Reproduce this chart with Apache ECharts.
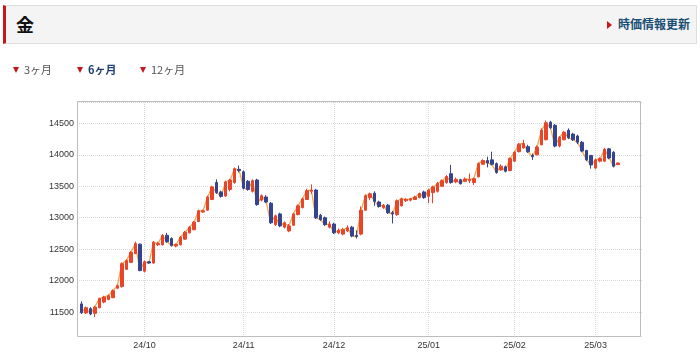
<!DOCTYPE html>
<html>
<head>
<meta charset="utf-8">
<script src="https://cdn.jsdelivr.net/npm/echarts@6/dist/echarts.min.js"></script>
<style>
html,body{margin:0;padding:0;background:#fff;width:700px;height:356px;overflow:hidden;font-family:'Noto Sans CJK JP','Noto Sans',sans-serif;}
#chart{position:absolute;left:0;top:0;width:700px;height:356px;}
.hdr{position:absolute;left:3px;top:5px;width:694px;height:39px;background:#f4f4f4;border:1px solid #dedede;border-left:3px solid #c8161d;box-sizing:border-box;}
.title{position:absolute;left:10px;top:5px;font-size:18px;font-weight:bold;color:#111;line-height:26px;}
.upd{position:absolute;right:6px;top:9px;font-size:12px;font-weight:bold;color:#1c4f74;line-height:18px;}
.upd i{display:inline-block;width:0;height:0;border-top:4px solid transparent;border-bottom:4px solid transparent;border-left:5px solid #c8161d;margin-right:6px;vertical-align:0px;}
.tab{position:absolute;top:60px;font-size:11px;color:#555;line-height:18px;}
.tab i{display:inline-block;width:0;height:0;border-left:3.5px solid transparent;border-right:3.5px solid transparent;border-top:6px solid #c8161d;margin-right:5px;vertical-align:1px;}
.tab.on{font-weight:bold;color:#1c3f6e;}
</style>
</head>
<body>
<div id="chart"></div>
<div class="hdr"><div class="title">金</div><div class="upd"><i></i>時価情報更新</div></div>
<div class="tab" style="left:13px"><i></i>3ヶ月</div>
<div class="tab on" style="left:77px"><i></i>6ヶ月</div>
<div class="tab" style="left:140px"><i></i>12ヶ月</div>
<script>
const dates = [
'24/09/09','24/09/10','24/09/11','24/09/12','24/09/13','24/09/17','24/09/18','24/09/19','24/09/20','24/09/24','24/09/25','24/09/26','24/09/27','24/09/30',
'24/10/01','24/10/02','24/10/03','24/10/04','24/10/07','24/10/08','24/10/09','24/10/10','24/10/11','24/10/15','24/10/16','24/10/17','24/10/18','24/10/21','24/10/22','24/10/23','24/10/24','24/10/25','24/10/28','24/10/29','24/10/30','24/10/31',
'24/11/01','24/11/05','24/11/06','24/11/07','24/11/08','24/11/11','24/11/12','24/11/13','24/11/14','24/11/15','24/11/18','24/11/19','24/11/20','24/11/21','24/11/22','24/11/25','24/11/26','24/11/27','24/11/28','24/11/29',
'24/12/02','24/12/03','24/12/04','24/12/05','24/12/06','24/12/09','24/12/10','24/12/11','24/12/12','24/12/13','24/12/16','24/12/17','24/12/18','24/12/19','24/12/20','24/12/23','24/12/24','24/12/25','24/12/26','24/12/27','24/12/30',
'25/01/06','25/01/07','25/01/08','25/01/09','25/01/10','25/01/14','25/01/15','25/01/16','25/01/17','25/01/20','25/01/21','25/01/22','25/01/23','25/01/24','25/01/27','25/01/28','25/01/29','25/01/30','25/01/31',
'25/02/03','25/02/04','25/02/05','25/02/06','25/02/07','25/02/10','25/02/12','25/02/13','25/02/14','25/02/17','25/02/18','25/02/19','25/02/20','25/02/21','25/02/25','25/02/26','25/02/27','25/02/28',
'25/03/03','25/03/04','25/03/05','25/03/06','25/03/07','25/03/10'
];
const opens = [
11630,11485,11555,11480,11570,11660,11700,11730,11880,11905,12180,12290,12430,12580,
12150,12300,12280,12570,12570,12720,12670,12550,12570,12660,12760,12810,12940,13090,13120,13290,13560,13410,13345,13450,13560,13770,
13730,13580,13420,13600,13280,13330,13230,12890,13060,12850,12790,12880,13050,13160,13290,13420,13440,13040,13000,12850,
12900,12760,12740,12790,12850,12720,12740,13120,13320,13390,13250,13160,13200,13080,13050,13190,13270,13280,13290,13320,13410,
13340,13400,13420,13500,13560,13700,13570,13605,13580,13590,13560,13650,13850,13910,13920,13860,13760,13810,13750,
13900,14050,14110,14130,13990,14000,14160,14240,14520,14470,14140,14240,14390,14330,14300,14200,14070,13990,
13790,13900,13900,14095,14040,13845
];
const closes = [
11490,11570,11470,11580,11715,11740,11760,11840,11920,12270,12320,12450,12590,12160,
12300,12280,12610,12590,12720,12620,12560,12575,12690,12770,12850,12930,13110,13110,13330,13490,13400,13340,13570,13600,13780,13750,
13470,13450,13590,13210,13350,13250,12920,13030,12870,12920,12870,13060,13190,13300,13430,13440,13000,12970,12890,12900,
12760,12800,12810,12840,12710,12700,13120,13350,13380,13260,13180,13200,13080,13060,13270,13300,13290,13300,13330,13385,13320,
13440,13490,13545,13590,13655,13560,13610,13540,13615,13610,13620,13860,13910,13870,13850,13720,13820,13740,13940,
14040,14170,14180,14050,13970,14125,14390,14510,14430,14140,14280,14360,14270,14240,14200,14060,13920,13840,
13920,13940,14090,13950,13820,13870
];
const lows = [
11470,11470,11450,11420,11560,11640,11690,11720,11870,11890,12170,12280,12420,12150,
12130,12270,12270,12550,12560,12600,12540,12530,12560,12650,12750,12800,12930,13080,13110,13280,13380,13320,13330,13420,13540,13720,
13450,13430,13400,13190,13260,13230,12900,12870,12850,12830,12770,12870,13040,13150,13280,13380,12980,12950,12870,12830,
12740,12740,12720,12770,12690,12670,12720,13110,13280,13190,13160,13140,13060,12910,13030,13180,13250,13260,13280,13310,13300,
13230,13230,13400,13490,13540,13540,13550,13530,13570,13550,13520,13640,13840,13800,13830,13700,13750,13720,13740,
13890,14040,14100,14030,13920,13990,14150,14230,14410,14120,14120,14230,14250,14220,14170,14040,13900,13780,
13770,13880,13890,13930,13800,13840
];
const highs = [
11670,11590,11580,11600,11730,11760,11780,11860,11940,12290,12340,12470,12620,12590,
12320,12310,12630,12620,12740,12760,12690,12590,12710,12790,12870,12950,13130,13130,13350,13510,13610,13430,13590,13620,13800,13830,
13750,13600,13610,13620,13370,13360,13250,13050,13080,12940,12900,13080,13210,13320,13460,13530,13460,13060,13020,12940,
12920,12830,12840,12880,12870,12800,13180,13370,13400,13420,13270,13220,13220,13110,13290,13320,13310,13310,13350,13400,13430,
13460,13510,13570,13610,13680,13840,13640,13620,13640,13700,13640,13880,13930,13970,14050,13880,13850,13830,13960,
14060,14190,14240,14160,14020,14150,14420,14545,14540,14490,14300,14380,14420,14350,14320,14220,14080,14000,
13940,13960,14110,14110,14060,13880
];
const monthStartDates = ['24/10/01','24/11/01','24/12/02','25/01/06','25/02/03','25/03/03'];
const monthLabels = ['24/10','24/11','24/12','25/01','25/02','25/03'];
const padSlots = ['', '', '', '', ''];

const candles = dates.map((d, i) => [opens[i], closes[i], lows[i], highs[i]]);
const isMonthStart = (idx, val) => monthStartDates.indexOf(val) >= 0;

const chart = echarts.init(document.getElementById('chart'), null, {renderer: 'canvas'});
chart.setOption({
  animation: false,
  backgroundColor: 'transparent',
  grid: {left: 79, right: 57, top: 102, bottom: 20, containLabel: false},
  xAxis: {
    type: 'category',
    data: dates.concat(padSlots),
    boundaryGap: true,
    axisLine: {show: false},
    axisTick: {show: false},
    axisLabel: {
      interval: isMonthStart,
      formatter: v => { const k = monthStartDates.indexOf(v); return k >= 0 ? monthLabels[k] : ''; },
      fontSize: 9, color: '#333', margin: 5, fontFamily: 'Liberation Sans'
    },
    splitLine: {show: true, interval: isMonthStart, alignWithLabel: true, lineStyle: {color: '#d8d8d8', type: 'dotted', width: 1}}
  },
  yAxis: {
    type: 'value',
    min: 11120, max: 14840, splitNumber: 7,
    axisLine: {show: false},
    axisTick: {show: false},
    axisLabel: {showMinLabel: false, showMaxLabel: false, fontSize: 9, color: '#333', margin: 5, fontFamily: 'Liberation Sans',
      formatter: v => String(v)},
    splitLine: {show: true, lineStyle: {color: '#d8d8d8', type: 'dotted', width: 1}}
  },
  graphic: [{
    type: 'rect', silent: true, z: 100,
    shape: {x: 77.5, y: 101.5, width: 563, height: 235},
    style: {fill: 'none', stroke: '#bdbdbd', lineWidth: 1}
  }],
  series: [
    {
      type: 'line', data: closes, symbol: 'none', z: 1,
      lineStyle: {color: '#f5a54a', width: 1.3}
    },
    {
      type: 'candlestick', data: candles, barWidth: 3, z: 2,
      itemStyle: {color: '#e8452a', color0: '#34448f', borderColor: '#e8452a', borderColor0: '#34448f', borderWidth: 1}
    }
  ]
});
</script>
</body>
</html>
